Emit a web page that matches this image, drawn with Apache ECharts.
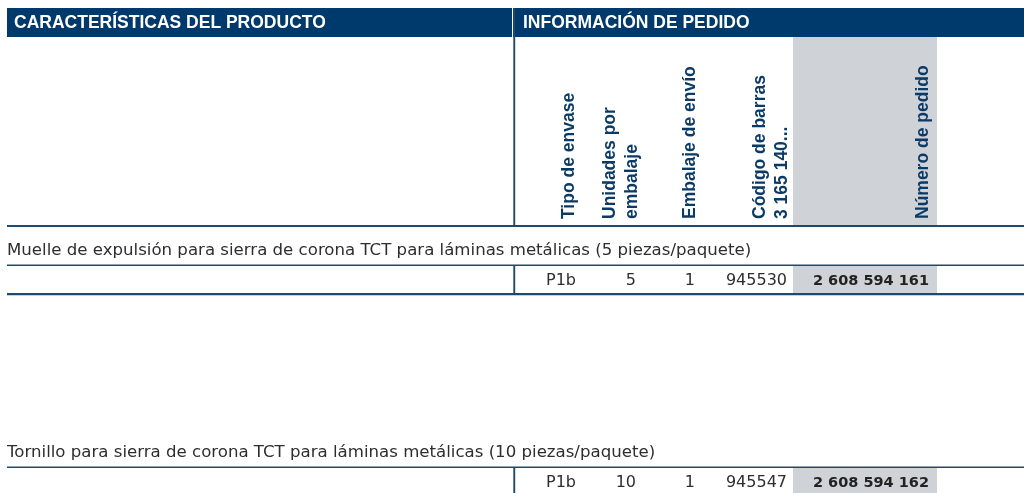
<!DOCTYPE html>
<html><head><meta charset="utf-8">
<script src="https://cdn.jsdelivr.net/npm/echarts@6/dist/echarts.min.js"></script>
<style>html,body{margin:0;padding:0;background:#fff}#c{width:1024px;height:493px}</style>
</head><body><div id="c"></div>
<script>
const sectionTitles = ['CARACTERÍSTICAS DEL PRODUCTO', 'INFORMACIÓN DE PEDIDO'];
const columnHeaders = [['Tipo de envase'], ['Unidades por', 'embalaje'], ['Embalaje de envío'], ['Código de barras', '3 165 140...'], ['Número de pedido']];
const products = [
  'Muelle de expulsión para sierra de corona TCT para láminas metálicas (5 piezas/paquete)',
  'Tornillo para sierra de corona TCT para láminas metálicas (10 piezas/paquete)'
];
const packType = ['P1b', 'P1b'];
const unitsPerPack = [5, 10];
const shippingPack = [1, 1];
const barcode = ['945530', '945547'];
const orderNumber = ['2 608 594 161', '2 608 594 162'];

const NAVY = '#00396b', LINE = '#1d4a6e', HEADTXT = '#0b3a66', GREY = '#cfd2d6', BODY = '#2e2e2e';
const HFONT = 'bold 17.5px "Liberation Sans", Arial, sans-serif';
const colCenters = [569, 621, 690, 771, 923];     // rotated header columns
const valRight = [576, 636, 695, 787, 929];       // right edges of value cells
const rowTop = [236, 438];                        // product title rows
const g = [];
// header bands
g.push({type:'rect', shape:{x:7,y:8,width:505,height:29}, style:{fill:NAVY}});
g.push({type:'rect', shape:{x:513,y:8,width:511,height:29}, style:{fill:NAVY}});
g.push({type:'text', x:14, y:23, style:{text:sectionTitles[0], fill:'#fff', font:HFONT, textVerticalAlign:'middle'}});
g.push({type:'text', x:523, y:23, style:{text:sectionTitles[1], fill:'#fff', font:HFONT, textVerticalAlign:'middle'}});
// grey column in header
g.push({type:'rect', shape:{x:793,y:37,width:144,height:188}, style:{fill:GREY}});
// vertical divider
g.push({type:'rect', shape:{x:513.3,y:8,width:1.9,height:218}, style:{fill:LINE}});
g.push({type:'rect', shape:{x:7,y:225,width:1017,height:2}, style:{fill:LINE}});
// rotated column headers
columnHeaders.forEach((lines, i) => {
  g.push({type:'text', x:colCenters[i], y:219, rotation:Math.PI/2,
    style:{text:lines.join('\n'), fill:HEADTXT, font:HFONT, lineHeight:21.5, textAlign:'left', textVerticalAlign:'middle'}});
});
// product rows
products.forEach((name, r) => {
  const t = rowTop[r];
  g.push({type:'text', x:7, y:t+15, style:{text:name, fill:BODY, font:'16.6px "DejaVu Sans", sans-serif', textVerticalAlign:'middle'}});
  g.push({type:'rect', shape:{x:7,y:t+28.5,width:1017,height:1.5}, style:{fill:LINE}});
  g.push({type:'rect', shape:{x:793,y:t+30,width:144,height:27}, style:{fill:GREY}});
  g.push({type:'rect', shape:{x:513.3,y:t+29,width:1.9,height:29}, style:{fill:LINE}});
  g.push({type:'rect', shape:{x:7,y:t+57,width:1017,height:2.2}, style:{fill:LINE}});
  const vals = [packType[r], String(unitsPerPack[r]), String(shippingPack[r]), barcode[r], orderNumber[r]];
  vals.forEach((v, c) => {
    g.push({type:'text', x:valRight[c], y:t+45, style:{text:v, fill:c===4?'#222':BODY,
      font:c===4?'bold 14.5px "DejaVu Sans", sans-serif':'16px "DejaVu Sans", sans-serif', textAlign:'right', textVerticalAlign:'middle'}});
  });
});
const chart = echarts.init(document.getElementById('c'), null, {renderer:'canvas'});
chart.setOption({animation:false, graphic:{elements:g}});
</script></body></html>
